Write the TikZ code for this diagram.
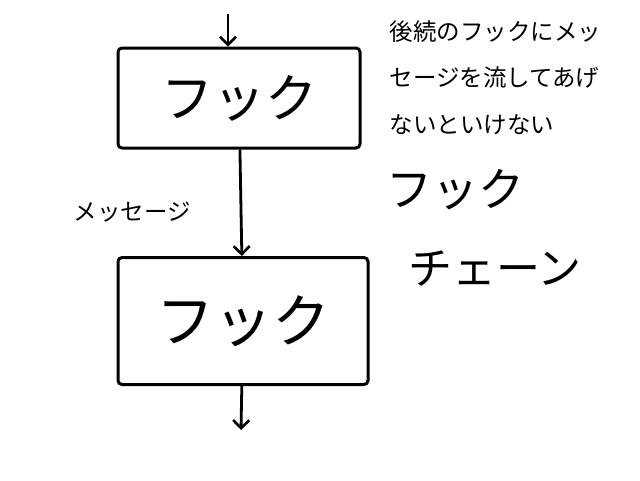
\documentclass[tikz,border=0pt]{standalone}
\usepackage{fontspec}
\setmainfont{Noto Sans CJK JP}
\usetikzlibrary{arrows.meta}

\begin{document}
\begin{tikzpicture}[x=1pt,y=-1pt,
    hookbox/.style={draw,line width=3pt,rounded corners=4pt,inner sep=0pt},
    flow/.style={line width=2.8pt,-{Straight Barb[length=8pt,width=16pt,line width=2.6pt]}},
    hand/.style={font=\fontsize{#1}{#1}\selectfont},
    note/.style={font=\fontsize{23.5}{23.5}\selectfont,anchor=west}]
    \useasboundingbox[fill=white] (0,0) rectangle (640,480);

    \node[hookbox,minimum width=242pt,minimum height=100pt,hand=52] (hook1) at (239,98) {フック};
    \node[hookbox,minimum width=250pt,minimum height=127pt,hand=58] (hook2) at (243,321) {フック};

    \coordinate (in) at (228,14);
    \coordinate (out) at (241,430);

    \draw[flow] (in) -- (in |- hook1.north);
    \draw[flow] (hook1) -- (hook2);
    \draw[flow] (hook2) -- (out);

    \node[note] (msg) at (70,212) {メッセージ};

    \node[note] (text1) at (386,32) {後続のフックにメッ};
    \node[note] (text2) at (386,78) {セージを流してあげ};
    \node[note] (text3) at (386,125) {ないといけない};

    \node[hand=46] (title1) at (455,190) {フック};
    \node[hand=44] (title2) at (495,268) {チェーン};
\end{tikzpicture}
\end{document}
